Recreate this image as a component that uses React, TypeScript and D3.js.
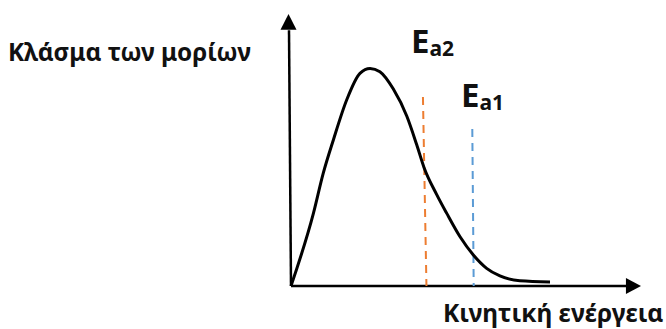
import React from "react";
import * as d3 from "d3";

// Curve: kinetic energy (x) vs fraction of molecules (y), in arbitrary units 0..100
const energy = [0, 6.4, 9.2, 12.1, 15.9, 19.7, 22.6, 25.4, 29.2, 33.1, 35.9, 38.0, 41.6, 44.5, 48.3, 52.1, 55.9, 59.7, 65.4, 74.0];
const fraction = [0, 26.7, 41.4, 53.7, 68.4, 78.2, 80.0, 78.8, 72.5, 62.4, 52.0, 43.6, 33.7, 26.7, 18.1, 11.4, 6.5, 3.7, 1.9, 1.5];

// Activation energy markers
const markerNames = ["a2", "a1"];
const markerEnergyTop = [37.7, 51.8];
const markerEnergyBottom = [38.7, 52.2];
const markerHeight = [69.5, 57.7];
const markerColors = ["#ED7D31", "#5B9BD5"];

const yLabel = "Κλάσμα των μορίων";
const xLabel = "Κινητική ενέργεια";

const W = 666;
const H = 329;

export default function App() {
  const x = d3.scaleLinear().domain([0, 100]).range([291, 641]);
  const y = d3.scaleLinear().domain([0, 100]).range([286, 14]);

  const pts: [number, number][] = energy.map((e, i) => [e, fraction[i]]);
  const line = d3
    .line<[number, number]>()
    .x((d) => x(d[0]))
    .y((d) => y(d[1]))
    .curve(d3.curveMonotoneX);

  const font = "'Noto Sans', 'DejaVu Sans', sans-serif";
  const x0 = x(0);
  const y0 = y(0);

  return (
    <svg
      width={W}
      height={H}
      style={{ position: "absolute", left: 0, top: 0, background: "#fff" }}
      fontFamily={font}
    >
      {/* axes */}
      <line x1={x0} y1={y0} x2={x0 - 2} y2={y(94)} stroke="#000" strokeWidth={2.5} />
      <path
        d={`M${x0 - 2.5},${y(100)} L${x0 - 10.5},${y(94.2)} L${x0 + 5.5},${y(94.2)} Z`}
        fill="#000"
      />
      <line x1={x0} y1={y0} x2={x(96)} y2={y0} stroke="#000" strokeWidth={2.5} />
      <path
        d={`M${x(100)},${y0} L${x(95.7)},${y0 - 8} L${x(95.7)},${y0 + 8} Z`}
        fill="#000"
      />

      {/* dashed activation energy lines */}
      {markerNames.map((n, i) => (
        <line
          key={n}
          x1={x(markerEnergyTop[i])}
          y1={y(markerHeight[i])}
          x2={x(markerEnergyBottom[i])}
          y2={y0}
          stroke={markerColors[i]}
          strokeWidth={2}
          strokeDasharray="8 6"
        />
      ))}

      {/* distribution curve */}
      <path d={line(pts) || ""} fill="none" stroke="#000" strokeWidth={3} strokeLinejoin="round" />

      {/* labels */}
      <text x={8} y={61} fontSize={24.3} fontWeight="bold" fill="#111">
        {yLabel}
      </text>
      <text x={443} y={322} fontSize={24.5} fontWeight="bold" fill="#111">
        {xLabel}
      </text>
      <text x={411} y={53} fontSize={33} fontWeight="bold" fill="#111">
        E<tspan fontSize={21} dy={3}>a2</tspan>
      </text>
      <text x={461} y={107} fontSize={33} fontWeight="bold" fill="#111">
        E<tspan fontSize={21} dy={3}>a1</tspan>
      </text>
    </svg>
  );
}
